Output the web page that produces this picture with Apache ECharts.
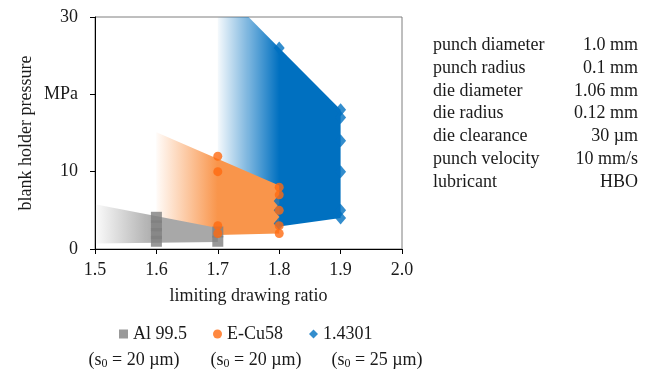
<!DOCTYPE html>
<html>
<head>
<meta charset="utf-8">
<script src="https://cdn.jsdelivr.net/npm/echarts@6/dist/echarts.min.js"></script>
<style>
  html, body { margin: 0; padding: 0; background: #fff; }
  #chart { width: 653px; height: 375px; }
</style>
</head>
<body>
<div id="chart"></div>
<script>
// measured points, [limiting drawing ratio, blank holder pressure in MPa]
const alPoints = [[1.6, 1], [1.6, 2], [1.6, 3], [1.6, 4.1], [1.7, 1], [1.7, 2.2]]
const cuPoints = [[1.7, 12], [1.7, 10], [1.7, 3], [1.7, 2], [1.8, 8], [1.8, 7], [1.8, 5], [1.8, 3], [1.8, 2]]
const steelPoints = [[1.8, 26], [1.8, 6.2], [1.8, 5], [1.8, 3.3], [1.9, 18], [1.9, 17], [1.9, 14], [1.9, 10], [1.9, 5], [1.9, 4]]

// process windows (shaded areas)
const alRegion = [[1.5, 5.8], [1.7, 2.7], [1.7, 0.9], [1.5, 0.7]]
const cuRegion = [[1.6, 15.1], [1.8, 8.2], [1.8, 2.0], [1.7, 1.8], [1.6, 2.4]]
const steelRegion = [[1.7, 34], [1.8, 26], [1.9, 18], [1.9, 4], [1.8, 2.9], [1.7, 2.5]]

const yTickLabels = { 0: '0', 10: '10', 20: 'MPa', 30: '30' }
const seriesNames = ['Al 99.5', 'E-Cu58', '1.4301']
const thickness = ['20 µm', '20 µm', '25 µm']

const toolParams = [
  ['punch diameter', '1.0 mm'],
  ['punch radius', '0.1 mm'],
  ['die diameter', '1.06 mm'],
  ['die radius', '0.12 mm'],
  ['die clearance', '30 µm'],
  ['punch velocity', '10 mm/s'],
  ['lubricant', 'HBO']
]

const FONT = 'Liberation Serif'
const TXT = '#1a1a1a'

function rgba(hex, a) {
  const n = parseInt(hex.slice(1), 16)
  return `rgba(${(n >> 16) & 255},${(n >> 8) & 255},${n & 255},${a})`
}

// polygon drawn through the axes, faded in from the left
function region(pts, fadeFrom, fadeTo, color, z) {
  return {
    type: 'custom',
    silent: true,
    clip: true,
    z,
    data: [[1.75, 10]],
    renderItem: (params, api) => {
      const points = pts.map((p) => api.coord(p))
      const x0 = api.coord([fadeFrom, 0])[0]
      const x1 = api.coord([fadeTo, 0])[0]
      return {
        type: 'polygon',
        shape: { points },
        style: {
          fill: new echarts.graphic.LinearGradient(x0, 0, x1, 0, [
            { offset: 0, color: rgba(color, 0.04) },
            { offset: 1, color: rgba(color, 1) }
          ], true)
        }
      }
    }
  }
}

const graphics = []
toolParams.forEach(([label, value], i) => {
  const y = 45 + i * 22.9
  graphics.push({ type: 'text', x: 433, y, style: { text: label, font: `18px "${FONT}"`, fill: TXT, verticalAlign: 'middle' } })
  graphics.push({ type: 'text', x: 638, y, style: { text: value, font: `18px "${FONT}"`, fill: TXT, align: 'right', verticalAlign: 'middle' } })
})
const subCenters = [134, 256, 377]
thickness.forEach((t, i) => {
  graphics.push({
    type: 'text',
    x: subCenters[i],
    y: 360,
    style: {
      text: `(s{sub|0} = ${t})`,
      font: `18px "${FONT}"`,
      fill: TXT,
      align: 'center',
      verticalAlign: 'middle',
      rich: { sub: { fontSize: 12, fontFamily: FONT, fill: TXT, padding: [8, 0, 0, 0] } }
    }
  })
})

const chart = echarts.init(document.getElementById('chart'), null, { renderer: 'canvas' })
chart.setOption({
  animation: false,
  textStyle: { fontFamily: FONT },
  grid: { left: 95, right: 251, top: 17, bottom: 126, show: true, borderColor: '#7f7f7f', borderWidth: 1 },
  xAxis: {
    type: 'value', min: 1.5, max: 2.0, interval: 0.1,
    name: 'limiting drawing ratio', nameLocation: 'middle', nameGap: 38,
    nameTextStyle: { fontSize: 18, color: TXT, fontFamily: FONT },
    axisLine: { onZero: false, lineStyle: { color: '#000', width: 1 } },
    axisTick: { length: 5, lineStyle: { color: '#000' } },
    axisLabel: { fontSize: 18, color: TXT, fontFamily: FONT, margin: 12, formatter: (v) => v.toFixed(1) },
    splitLine: { show: false }
  },
  yAxis: {
    type: 'value', min: 0, max: 30, interval: 10,
    name: 'blank holder pressure', nameLocation: 'middle', nameGap: 60,
    nameTextStyle: { fontSize: 18, color: TXT, fontFamily: FONT },
    axisLine: { show: true, onZero: false, lineStyle: { color: '#000', width: 1 } },
    axisTick: { show: true, length: 5, lineStyle: { color: '#000' } },
    axisLabel: { fontSize: 18, color: TXT, fontFamily: FONT, margin: 17, formatter: (v) => yTickLabels[v] ?? '' },
    splitLine: { show: false }
  },
  legend: {
    left: 114, top: 320,
    itemWidth: 9, itemHeight: 9, itemGap: 26,
    textStyle: { fontSize: 18, color: TXT, fontFamily: FONT },
    data: [
      { name: seriesNames[0], icon: 'rect' },
      { name: seriesNames[1], icon: 'circle' },
      { name: seriesNames[2], icon: 'diamond' }
    ]
  },
  graphic: graphics,
  series: [
    region(steelRegion, 1.7, 1.8, '#0070C0', 1),
    region(cuRegion, 1.6, 1.7, '#F9954B', 2),
    region(alRegion, 1.5, 1.6, '#A8A8A8', 3),
    {
      name: seriesNames[0], type: 'scatter', z: 4, symbol: 'rect', symbolSize: 11,
      itemStyle: { color: '#808080' }, data: alPoints
    },
    {
      name: seriesNames[2], type: 'scatter', z: 5, symbol: 'diamond', symbolSize: [11, 13],
      itemStyle: { color: '#0070C0' }, data: steelPoints
    },
    {
      name: seriesNames[1], type: 'scatter', z: 6, symbol: 'circle', symbolSize: 9,
      itemStyle: { color: '#FF6A10' }, data: cuPoints
    }
  ]
})
</script>
</body>
</html>
